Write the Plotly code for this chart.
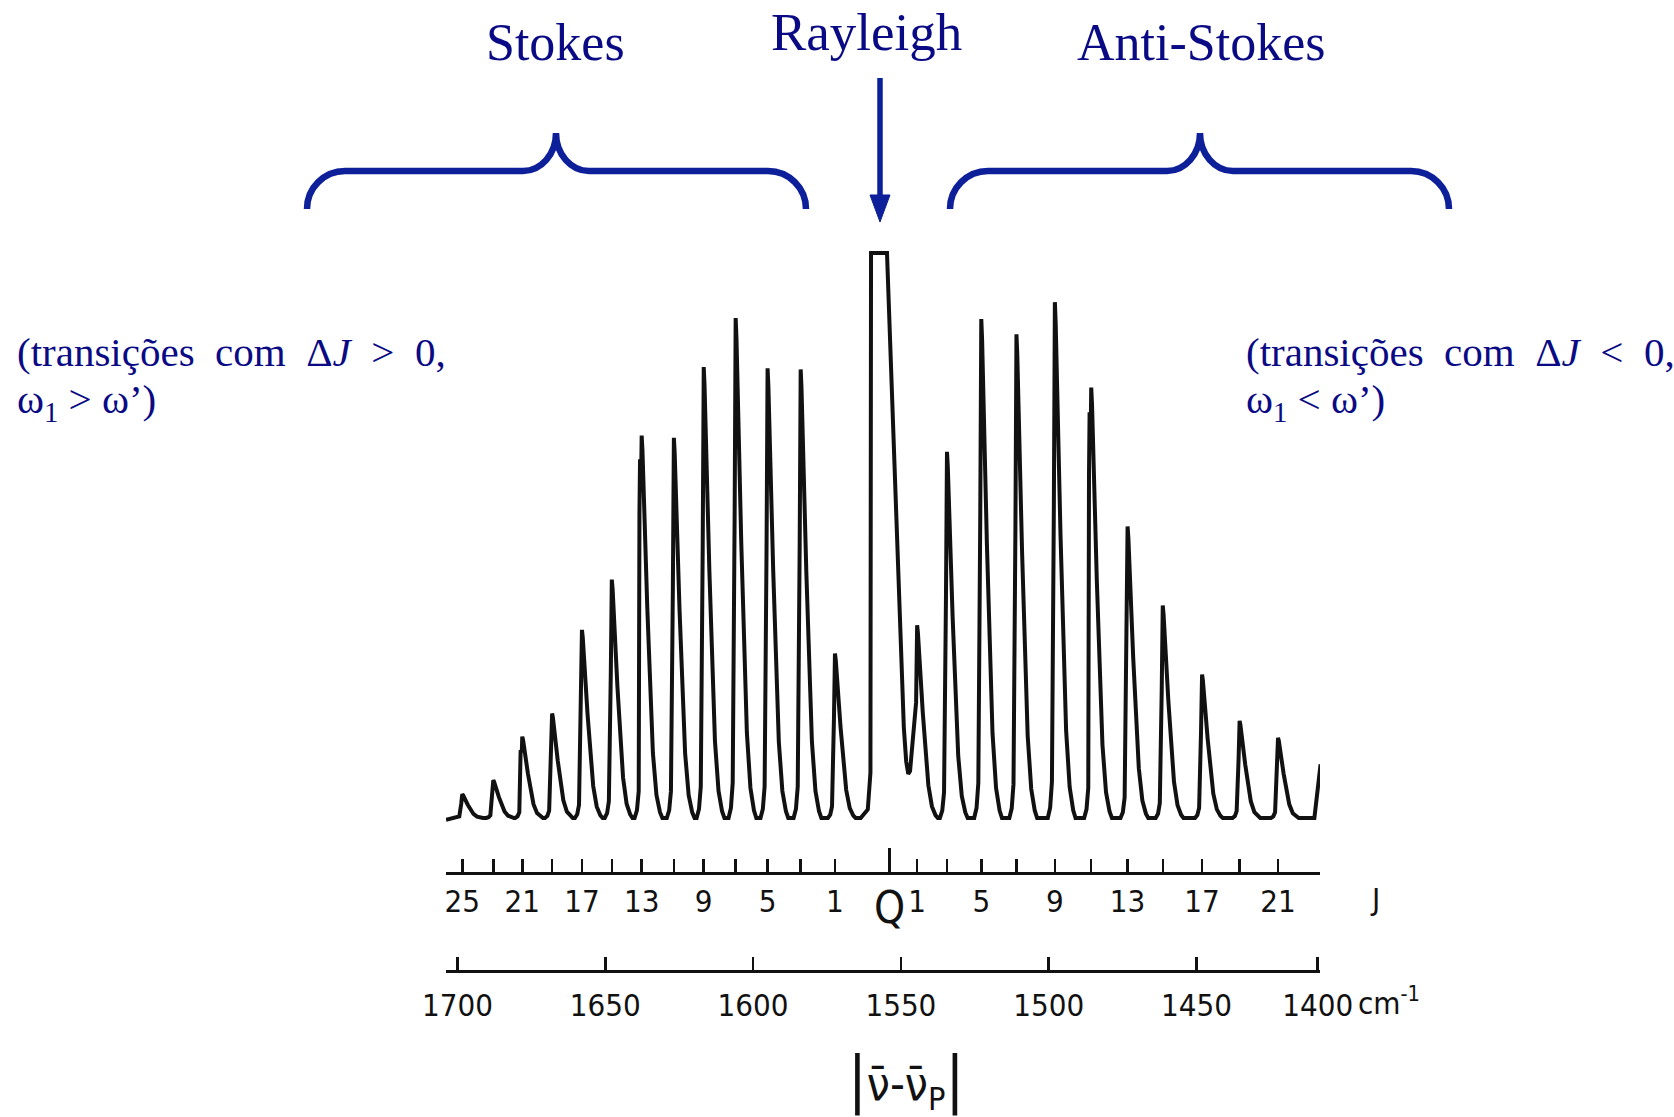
import plotly.graph_objects as go

W, H = 1674, 1117

# ---------------- data ----------------
# Stokes lines (Delta J > 0), high wavenumber side
stokes_J = [25, 23, 21, 19, 17, 15, 13, 11, 9, 7, 5, 3, 1]
stokes_wn = [1698.4, 1687.9, 1678.1, 1668.0, 1657.9, 1647.8, 1637.7,
             1626.8, 1616.7, 1605.9, 1595.1, 1583.9, 1572.3]
stokes_I = [4.2, 6.7, 14.4, 18.5, 33.3, 42.2, 67.7, 67.3, 79.8, 88.5, 79.6, 79.4, 29.1]
# shoulder on the rising side of a few lines (J: height)
stokes_shoulder = {21: 12.0, 13: 63.5}

# Anti-Stokes lines (Delta J < 0), low wavenumber side
anti_J = [1, 3, 5, 7, 9, 11, 13, 15, 17, 19, 21]
anti_wn = [1544.5, 1534.4, 1522.8, 1510.9, 1497.9, 1485.6, 1473.3,
           1461.4, 1448.1, 1435.4, 1422.4]
anti_I = [34.1, 64.8, 88.3, 85.6, 91.3, 76.2, 51.6, 37.6, 25.4, 17.2, 14.2]
anti_shoulder = {11: 71.8}

# Rayleigh (Q) line, saturated (flat top)
q_wn = 1553.8
rayleigh_wn = [1563.6, 1561.2, 1560.3, 1560.1, 1554.7, 1549.0, 1548.2, 1547.5, 1546.9]
rayleigh_I = [0, 1.5, 8, 100, 100, 16, 10, 7.8, 8.3]

# spectrum ends
start_wn, start_I = [1703.9], [-0.3]
end_wn, end_I = [1410.1, 1408.0], [0.0, 9.5]

# wavenumber scale
cm_tickvals = [1700, 1650, 1600, 1550, 1500, 1450, 1409]
cm_ticktext = ["1700", "1650", "1600", "1550", "1500", "1450", "1400"]

# line profile of one rotational line (offset toward lower cm-1, fraction of height)
PROFILE_D = [-2.4, -1.6, -1.0, -0.35, 0.0, 0.27, 1.9, 3.8, 5.0, 6.2, 7.0]
PROFILE_F = [0.0, 0.02, 0.07, 0.6, 1.0, 0.96, 0.55, 0.17, 0.06, 0.015, 0.0]

# ---------------- build the trace ----------------
xs, ys = list(start_wn), list(start_I)


def add_line(wn, h, dmin=-99, shoulder=None):
    for d, f in zip(PROFILE_D, PROFILE_F):
        if d < dmin:
            continue
        if shoulder is not None and d == 0.0:
            xs.extend([wn + 0.75, wn + 0.55, wn + 0.15])
            ys.extend([shoulder * 0.85, shoulder, shoulder * 0.97])
        if shoulder is not None and d == -0.35:
            continue
        xs.append(wn - d)
        ys.append(h * f)


for j, wn, h in zip(stokes_J, stokes_wn, stokes_I):
    add_line(wn, h, shoulder=stokes_shoulder.get(j))
xs += rayleigh_wn
ys += rayleigh_I
for i, (j, wn, h) in enumerate(zip(anti_J, anti_wn, anti_I)):
    add_line(wn, h, dmin=-0.35 if i == 0 else -99, shoulder=anti_shoulder.get(j))
xs += end_wn
ys += end_I

# ---------------- figure ----------------
INK = "#111111"
NAVY = "#0a0a85"
BLUE = "#0d1f99"
TICKFONT = "Liberation Sans Narrow, DejaVu Sans Condensed, Liberation Sans, sans-serif"
SERIF = "Liberation Serif, Times New Roman, serif"

x_dom = [446 / W, 1320 / W]
x_rng = [1703.9, 1408.2]


def py(p):
    return 1 - p / H


def px(p):
    return p / W


fig = go.Figure()
fig.add_trace(go.Scatter(x=xs, y=ys, mode="lines",
                         line=dict(color=INK, width=4, shape="linear"),
                         hoverinfo="skip", xaxis="x", yaxis="y"))
fig.add_trace(go.Scatter(x=stokes_wn + anti_wn, y=[0] * (len(stokes_wn) + len(anti_wn)),
                         mode="markers", marker=dict(opacity=0), hoverinfo="skip",
                         xaxis="x2", yaxis="y"))
fig.add_trace(go.Scatter(x=[q_wn], y=[0], mode="markers", marker=dict(opacity=0),
                         hoverinfo="skip", xaxis="x3", yaxis="y"))

J_vals = stokes_wn + anti_wn
J_text = [str(j) if j % 4 == 1 else "" for j in stokes_J] + \
         [str(j) if j % 4 == 1 else "" for j in anti_J]

axis_common = dict(domain=x_dom, range=x_rng, anchor="free", showgrid=False,
                   zeroline=False, ticks="inside", tickcolor=INK, tickwidth=2.5,
                   tickmode="array", fixedrange=True, automargin=False)

layout = dict(
    width=W, height=H, autosize=False,
    margin=dict(l=0, r=0, t=0, b=0, pad=0, autoexpand=False),
    paper_bgcolor="white", plot_bgcolor="white",
    showlegend=False,
    xaxis=dict(**axis_common, position=py(971), showline=True, linecolor=INK,
               linewidth=3, ticklen=13, tickvals=cm_tickvals, ticktext=cm_ticktext,
               tickfont=dict(family=TICKFONT, size=31, color=INK),
               ticklabelstandoff=6),
    xaxis2=dict(**axis_common, overlaying="x", position=py(873), showline=True,
                linecolor=INK, linewidth=3, ticklen=13, tickvals=J_vals,
                ticktext=J_text, tickfont=dict(family=TICKFONT, size=31, color=INK),
                ticklabelstandoff=0),
    xaxis3=dict(**axis_common, overlaying="x", position=py(873), showline=False,
                ticklen=25, tickvals=[q_wn], ticktext=["Q"],
                tickfont=dict(family=TICKFONT, size=44, color=INK),
                ticklabelstandoff=5),
    yaxis=dict(domain=[py(840), py(240)], range=[-3.894, 102.30], visible=False,
               fixedrange=True, automargin=False),
)
fig.update_layout(**layout)

annotations = []


def ann(text, x, y, size, color, family, xanchor="center", yanchor="middle"):
    annotations.append(dict(text=text, x=px(x), y=py(y), xref="paper", yref="paper",
                            showarrow=False, xanchor=xanchor, yanchor=yanchor,
                            font=dict(family=family, size=size, color=color)))


ann("Stokes", 555, 43, 52, NAVY, SERIF)
ann("Rayleigh", 867, 32, 53, NAVY, SERIF)
ann("Anti-Stokes", 1201, 43, 52, NAVY, SERIF)

sp = "\u00a0\u00a0"
ann("(transições" + sp + "com" + sp + "Δ<i>J</i>" + sp + ">" + sp + "0,", 15, 352, 41, NAVY, SERIF, xanchor="left")
ann("ω<sub>1</sub> > ω’)", 15, 402, 41, NAVY, SERIF, xanchor="left")
ann("(transições" + sp + "com" + sp + "Δ<i>J</i>" + sp + "<" + sp + "0,", 1244, 352, 41, NAVY, SERIF, xanchor="left")
ann("ω<sub>1</sub> < ω’)", 1244, 402, 41, NAVY, SERIF, xanchor="left")

ann("J", 1375, 899, 31, INK, TICKFONT)
ann("cm<sup>-1</sup>", 1356, 1001, 31, INK, TICKFONT, xanchor="left")
ann("<span style='font-size:62px'>|</span>ν\u0304-ν\u0304<sub>P</sub><span style='font-size:62px'>|</span>",
    906, 1080, 46, INK, TICKFONT)

fig.update_layout(annotations=annotations)


def P(x, y):
    return f"{px(x):.5f},{py(y):.5f}"


def brace(x0, xc, x1, yh, yend, ytop):
    r = 38
    k = 0.552
    cw = 33
    return ("M " + P(x0, yend)
            + " C " + P(x0, yend - k * (yend - yh)) + " " + P(x0 + (1 - k) * r, yh) + " " + P(x0 + r, yh)
            + " L " + P(xc - cw, yh)
            + " C " + P(xc - cw + k * cw, yh) + " " + P(xc, ytop + k * (yh - ytop)) + " " + P(xc, ytop)
            + " C " + P(xc, ytop + k * (yh - ytop)) + " " + P(xc + cw - k * cw, yh) + " " + P(xc + cw, yh)
            + " L " + P(x1 - r, yh)
            + " C " + P(x1 - (1 - k) * r, yh) + " " + P(x1, yend - k * (yend - yh)) + " " + P(x1, yend))


shapes = [
    dict(type="path", xref="paper", yref="paper", path=brace(307, 556, 806, 171, 209, 133),
         line=dict(color=BLUE, width=6.5)),
    dict(type="path", xref="paper", yref="paper", path=brace(950, 1200, 1449, 171, 209, 133),
         line=dict(color=BLUE, width=6.5)),
    dict(type="line", xref="paper", yref="paper", x0=px(880), x1=px(880), y0=py(78), y1=py(200),
         line=dict(color=BLUE, width=5.5)),
    dict(type="path", xref="paper", yref="paper",
         path="M " + P(870, 195) + " L " + P(890, 195) + " L " + P(880, 222) + " Z",
         fillcolor=BLUE, line=dict(color=BLUE, width=1)),
]
fig.update_layout(shapes=shapes)

fig.write_html("out.html",
               config={"displayModeBar": False, "staticPlot": True},
               post_script="document.body.style.margin='0px';"
                           "document.body.style.overflow='hidden';")
